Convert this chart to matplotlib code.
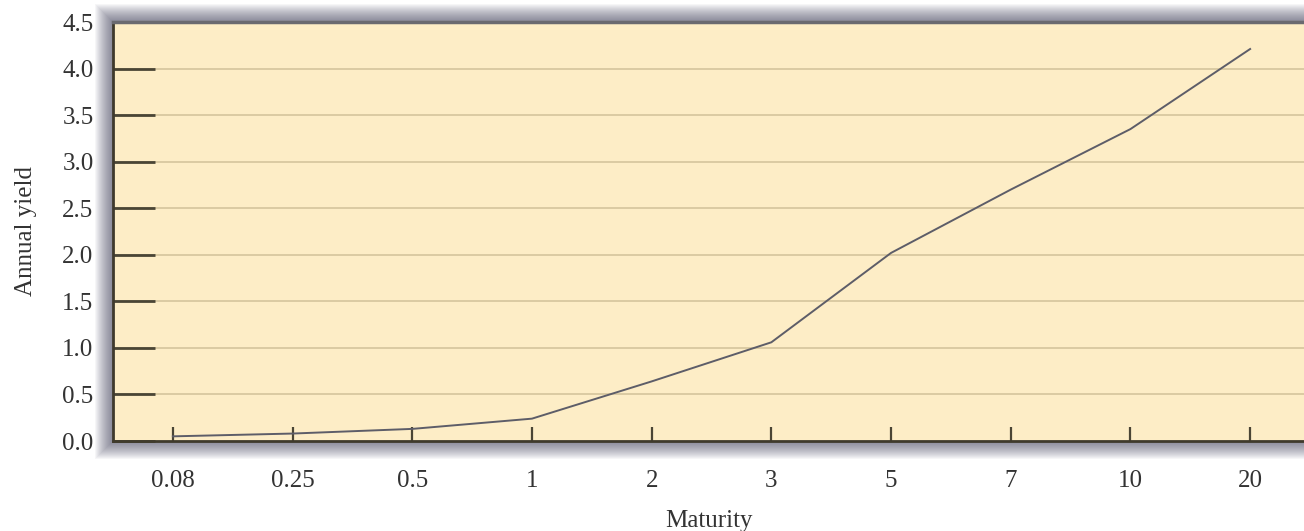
import matplotlib
matplotlib.use("Agg")
import matplotlib.pyplot as plt
from matplotlib.patches import Rectangle

maturities = ["0.08", "0.25", "0.5", "1", "2", "3", "5", "7", "10", "20"]
yields = [0.05, 0.08, 0.13, 0.24, 0.64, 1.06, 2.02, 2.70, 3.35, 4.21]
y_ticks = [0.0, 0.5, 1.0, 1.5, 2.0, 2.5, 3.0, 3.5, 4.0, 4.5]

plt.rcParams['font.family'] = ['Liberation Serif', 'DejaVu Serif']

fig = plt.figure(figsize=(13.04, 5.31), dpi=100)
L, B, R, T = 113/1304, 90/531, 1.0, 509/531
ax = fig.add_axes([L, B, R - L, T - B])
ax.set_zorder(2)

# soft shadow around the frame
for i in range(18, 0, -1):
    pad_x = i / 1304
    pad_y = i / 531
    fig.patches.append(Rectangle((L - pad_x, B - pad_y), (R - L) + 2 * pad_x, (T - B) + 2 * pad_y,
                                 transform=fig.transFigure, facecolor='#3a3a55',
                                 alpha=0.045, edgecolor='none', zorder=0))

ax.set_facecolor('#FDEDC6')
x = list(range(len(maturities)))
ax.plot(x, yields, color='#5d5d68', lw=1.4, zorder=3)

ax.set_xlim(-0.5, 9.45)
ax.set_ylim(0, 4.5)
ax.set_yticks(y_ticks)
ax.set_yticklabels([f"{v:.1f}" for v in y_ticks])
ax.set_xticks(x)
ax.set_xticklabels(maturities)

for v in y_ticks[1:]:
    ax.axhline(v, color='#D8C8A0', lw=1.3, zorder=1)

ax.tick_params(axis='y', direction='in', length=30, width=2, color='#4a4535',
               labelsize=18, pad=14, labelcolor='#333333')
ax.tick_params(axis='x', direction='in', length=10, width=1.6, color='#4a4535',
               labelsize=18, pad=21, labelcolor='#333333')

for s in ['left', 'bottom']:
    ax.spines[s].set_color('#3f3a2c')
    ax.spines[s].set_linewidth(2)
ax.spines['top'].set_color('#6a6a70')
ax.spines['top'].set_linewidth(2.5)
ax.spines['right'].set_visible(False)

ax.set_ylabel("Annual yield", fontsize=18, color='#333333', labelpad=18)
ax.set_xlabel("Maturity", fontsize=18, color='#333333', labelpad=13)

fig.savefig("out.png", dpi=100, facecolor='white')
